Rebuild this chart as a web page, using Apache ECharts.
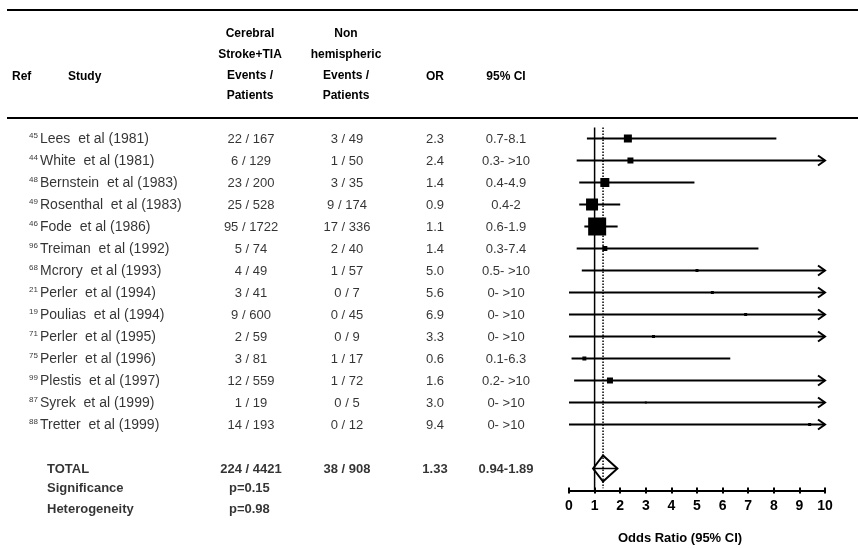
<!DOCTYPE html>
<html>
<head>
<meta charset="utf-8">
<title>Forest plot</title>
<script src="https://cdn.jsdelivr.net/npm/echarts@6/dist/echarts.min.js"></script>
<style>
    html, body {margin: 0; padding: 0; background: #fff;}
    #main {width: 858px; height: 548px;}
</style>
</head>
<body>
<div id="main"></div>
<script>
// study rows, top to bottom
var refs = [45, 44, 48, 49, 46, 96, 68, 21, 19, 71, 75, 99, 87, 88];
var authors = ['Lees', 'White', 'Bernstein', 'Rosenthal', 'Fode', 'Treiman', 'Mcrory',
    'Perler', 'Poulias', 'Perler', 'Perler', 'Plestis', 'Syrek', 'Tretter'];
var years = [1981, 1981, 1983, 1983, 1986, 1992, 1993, 1994, 1994, 1995, 1996, 1997, 1999, 1999];
var strokeEvents = [22, 6, 23, 25, 95, 5, 4, 3, 9, 2, 3, 12, 1, 14];
var strokePatients = [167, 129, 200, 528, 1722, 74, 49, 41, 600, 59, 81, 559, 19, 193];
var nonEvents = [3, 1, 3, 9, 17, 2, 1, 0, 0, 0, 1, 1, 0, 0];
var nonPatients = [49, 50, 35, 174, 336, 40, 57, 7, 45, 9, 17, 72, 5, 12];
var oddsRatio = [2.3, 2.4, 1.4, 0.9, 1.1, 1.4, 5.0, 5.6, 6.9, 3.3, 0.6, 1.6, 3.0, 9.4];
var ciLow = [0.7, 0.3, 0.4, 0.4, 0.6, 0.3, 0.5, 0, 0, 0, 0.1, 0.2, 0, 0];
var ciHigh = [8.1, '>10', 4.9, 2, 1.9, 7.4, '>10', '>10', '>10', '>10', 6.3, '>10', '>10', '>10'];
var boxWeight = [8, 6, 9, 12, 18, 5, 3, 3, 3, 3, 4, 6, 2, 3];

// pooled result
var totalCells = ['224 / 4421', '38 / 908', '1.33', '0.94-1.89'];
var pooledOR = 1.33, pooledLow = 0.94, pooledHigh = 1.89;
var significance = 'p=0.15';
var heterogeneity = 'p=0.98';
var axisMax = 10;

var chart = echarts.init(document.getElementById('main'), null, {renderer: 'canvas'});

var FONT = '"Liberation Sans", Arial, sans-serif';
var TOTAL_ROW = 15;

var names = [], col1 = [], col2 = [], col3 = [], col4 = [], studies = [];
for (var i = 0; i < refs.length; i++) {
    var open = ciHigh[i] === '>10';
    names.push(authors[i] + '  et al (' + years[i] + ')');
    col1.push(strokeEvents[i] + ' / ' + strokePatients[i]);
    col2.push(nonEvents[i] + ' / ' + nonPatients[i]);
    col3.push(oddsRatio[i].toFixed(1));
    col4.push(ciLow[i] + '-' + (open ? ' >10' : ciHigh[i]));
    studies.push([i, oddsRatio[i], ciLow[i], open ? axisMax : ciHigh[i], boxWeight[i], open ? 1 : 0]);
}

// text column drawn as labels on the table grid
function textCol(x, rows, texts, align, opts) {
    opts = opts || {};
    return {
        type: 'scatter',
        xAxisIndex: 1,
        yAxisIndex: 1,
        symbolSize: 0,
        silent: true,
        clip: false,
        data: texts.map(function (t, k) { return [x, rows[k], t]; }),
        label: {
            show: true,
            position: 'inside',
            align: align,
            verticalAlign: 'middle',
            offset: opts.offset || [0, 1],
            formatter: function (p) { return p.value[2]; },
            color: '#000',
            fontFamily: FONT,
            fontSize: opts.fontSize || 13,
            fontWeight: opts.bold ? 'bold' : 'normal'
        }
    };
}

var rowIdx = refs.map(function (r, k) { return k; });

function renderStudy(params, api) {
    var row = api.value(0);
    var p0 = api.coord([api.value(2), row]);
    var p1 = api.coord([api.value(3), row]);
    var pc = api.coord([api.value(1), row]);
    var s = api.value(4);
    var kids = [
        {type: 'line', shape: {x1: p0[0], y1: p0[1], x2: p1[0], y2: p1[1]}, style: {stroke: '#000', lineWidth: 2}},
        {type: 'rect', shape: {x: pc[0] - s / 2, y: pc[1] - s / 2, width: s, height: s}, style: {fill: '#000'}}
    ];
    if (api.value(5)) {
        kids.push({type: 'polyline', shape: {points: [[p1[0] - 7, p1[1] - 5], [p1[0], p1[1]], [p1[0] - 7, p1[1] + 5]]},
            style: {stroke: '#000', lineWidth: 2, fill: null}});
    }
    return {type: 'group', children: kids};
}

function renderDiamond(params, api) {
    var row = api.value(0);
    var l = api.coord([api.value(2), row]);
    var r = api.coord([api.value(3), row]);
    var c = api.coord([api.value(1), row]);
    var h = 13;
    return {
        type: 'group',
        children: [
            {type: 'polygon', shape: {points: [l, [c[0], c[1] - h], r, [c[0], c[1] + h]]},
                style: {fill: '#fff', stroke: '#000', lineWidth: 2}},
            {type: 'line', shape: {x1: l[0], y1: l[1], x2: r[0], y2: r[1]}, style: {stroke: '#000', lineWidth: 1.5}}
        ]
    };
}

var hdr = {fontFamily: FONT, fontSize: 12, fontWeight: 'bold', fill: '#000'};
function htext(x, y, t, align) {
    return {type: 'text', x: x, y: y, style: Object.assign({text: t, textAlign: align || 'center', textVerticalAlign: 'middle'}, hdr)};
}

var option = {
    animation: false,
    backgroundColor: '#fff',
    grid: [
        {left: 569, width: 256, top: 127.5, height: 363},
        {left: 0, top: 0, width: 858, height: 548}
    ],
    xAxis: [
        {
            gridIndex: 0, type: 'value', min: 0, max: axisMax, interval: 1, position: 'bottom',
            axisLine: {onZero: false, lineStyle: {color: '#000', width: 2}},
            axisTick: {length: 3, lineStyle: {color: '#000', width: 2}},
            axisLabel: {color: '#000', fontFamily: FONT, fontSize: 14, fontWeight: 'bold', margin: 9},
            splitLine: {show: false}
        },
        {gridIndex: 1, type: 'value', min: 0, max: 858, show: false},
        {
            gridIndex: 0, type: 'value', min: 0, max: axisMax, interval: 1, position: 'bottom',
            axisLine: {show: false, onZero: false},
            axisTick: {inside: true, length: 3, lineStyle: {color: '#000', width: 2}},
            axisLabel: {show: false},
            splitLine: {show: false}
        }
    ],
    yAxis: [
        {gridIndex: 0, type: 'value', inverse: true, min: -0.5, max: 16, show: false},
        {gridIndex: 1, type: 'value', inverse: true, min: -138.5 / 22, max: (548 - 138.5) / 22, show: false}
    ],
    graphic: [
        {type: 'line', shape: {x1: 7, y1: 10, x2: 858, y2: 10}, style: {stroke: '#000', lineWidth: 2}},
        {type: 'line', shape: {x1: 7, y1: 118, x2: 858, y2: 118}, style: {stroke: '#000', lineWidth: 2}},
        htext(12, 77, 'Ref', 'left'),
        htext(68, 77, 'Study', 'left'),
        htext(250, 34, 'Cerebral'),
        htext(250, 55, 'Stroke+TIA'),
        htext(250, 76, 'Events /'),
        htext(250, 96, 'Patients'),
        htext(346, 34, 'Non'),
        htext(346, 55, 'hemispheric'),
        htext(346, 76, 'Events /'),
        htext(346, 96, 'Patients'),
        htext(435, 77, 'OR'),
        htext(506, 77, '95% CI'),
        {type: 'text', x: 680, y: 538, style: {text: 'Odds Ratio (95% CI)', textAlign: 'center', textVerticalAlign: 'middle',
            fontFamily: FONT, fontSize: 13, fontWeight: 'bold', fill: '#000'}}
    ],
    series: [
        textCol(38, rowIdx, refs.map(String), 'right', {fontSize: 8, offset: [0, -3]}),
        textCol(40, rowIdx, names, 'left', {fontSize: 14}),
        textCol(251, rowIdx, col1, 'center'),
        textCol(347, rowIdx, col2, 'center'),
        textCol(435, rowIdx, col3, 'center'),
        textCol(506, rowIdx, col4, 'center'),
        textCol(47, [TOTAL_ROW], ['TOTAL'], 'left', {bold: true}),
        textCol(251, [TOTAL_ROW], [totalCells[0]], 'center', {bold: true}),
        textCol(347, [TOTAL_ROW], [totalCells[1]], 'center', {bold: true}),
        textCol(435, [TOTAL_ROW], [totalCells[2]], 'center', {bold: true}),
        textCol(506, [TOTAL_ROW], [totalCells[3]], 'center', {bold: true}),
        textCol(47, [15.85, 16.8], ['Significance', 'Heterogeneity'], 'left', {bold: true}),
        textCol(229, [15.85, 16.8], [significance, heterogeneity], 'left', {bold: true}),
        {
            type: 'custom',
            xAxisIndex: 0, yAxisIndex: 0,
            clip: false,
            silent: true,
            renderItem: renderStudy,
            data: studies
        },
        {
            type: 'custom',
            xAxisIndex: 0, yAxisIndex: 0,
            clip: false,
            silent: true,
            renderItem: renderDiamond,
            data: [[TOTAL_ROW, pooledOR, pooledLow, pooledHigh]]
        },
        {
            // no-effect line
            type: 'line', xAxisIndex: 0, yAxisIndex: 0, symbol: 'none', silent: true,
            lineStyle: {color: '#000', width: 1.5},
            data: [[1, -0.5], [1, 16]]
        },
        {
            // pooled estimate
            type: 'line', xAxisIndex: 0, yAxisIndex: 0, symbol: 'none', silent: true, z: 5,
            lineStyle: {color: '#000', width: 1.5, type: 'dotted'},
            data: [[pooledOR, -0.5], [pooledOR, 15.9]]
        }
    ]
};

chart.setOption(option);
</script>
</body>
</html>
